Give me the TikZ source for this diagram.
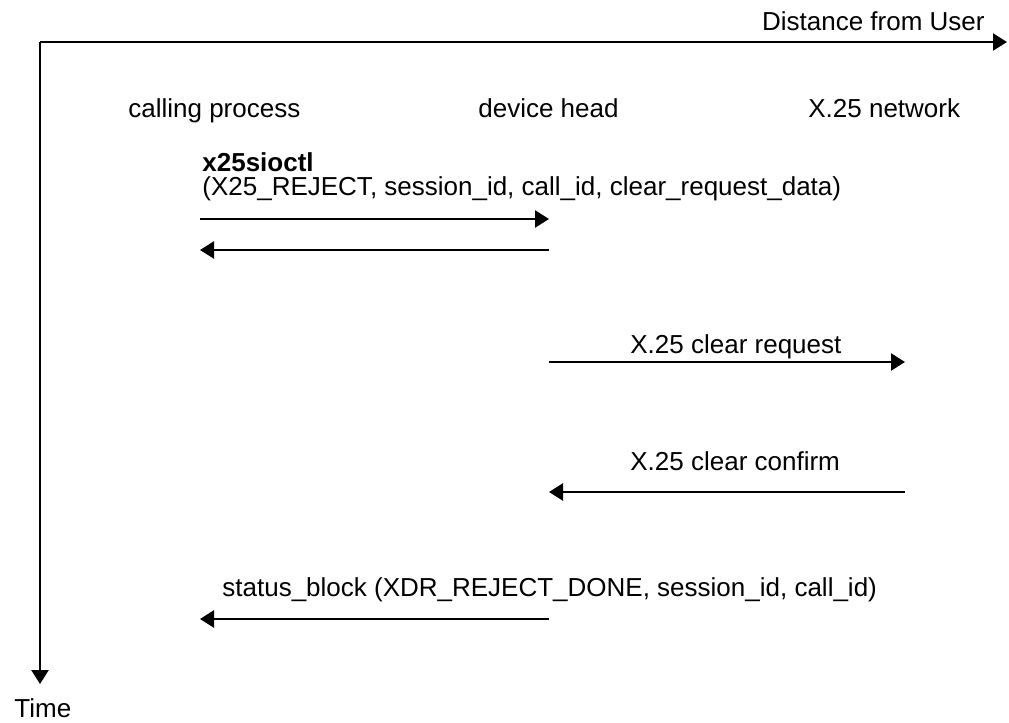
\documentclass[tikz,border=0pt]{standalone}
\usepackage{fontspec}
\setmainfont{Liberation Sans}
\usetikzlibrary{arrows.meta}
\begin{document}
\begin{tikzpicture}[x=0.5pt,y=-0.5pt,
  tip/.style={-{Triangle[length=7pt,width=8.5pt]}},
  axisline/.style={line width=1.2pt,tip},
  msg/.style={line width=1.2pt,tip},
  lbl/.style={inner sep=0pt,font=\fontsize{13}{15}\selectfont}]
\useasboundingbox (0,0) rectangle (1009,723);

% axes
\coordinate (origin) at (40,42);
\coordinate (distend) at (1007,42);
\coordinate (timeend) at (40,684);
\draw[axisline] (origin) -- (distend);
\draw[axisline] (origin) -- (timeend);
\node[lbl,anchor=base east] (dist) at (985,30) {Distance from User};
\node[lbl,anchor=base west] (time) at (14,717) {Time};

% participants
\node[lbl,anchor=base west] (cp) at (128,117) {calling process};
\node[lbl,anchor=base west] (dh) at (478,117) {device head};
\node[lbl,anchor=base west] (xn) at (808,117) {X.25 network};

% message end points
\coordinate (cp1) at (200,219);  \coordinate (dh1) at (549,219);
\coordinate (cp2) at (200,250);  \coordinate (dh2) at (549,250);
\coordinate (dh3) at (549,362);  \coordinate (xn3) at (905,362);
\coordinate (dh4) at (549,492);  \coordinate (xn4) at (905,492);
\coordinate (cp5) at (200,619);  \coordinate (dh5) at (549,619);

% ioctl call and its return
\node[lbl,anchor=base west] (ioctl) at (202,171) {\bfseries x25sioctl};
\node[lbl,anchor=base west] (ioctlargs) at (202,195) {(X25\_REJECT, session\_id, call\_id, clear\_request\_data)};
\draw[msg] (cp1) -- (dh1);
\draw[msg] (dh2) -- (cp2);

% clear request / confirm
\node[lbl,anchor=base west] (clrreq) at (630,353) {X.25 clear request};
\draw[msg] (dh3) -- (xn3);
\node[lbl,anchor=base west] (clrcnf) at (630,470) {X.25 clear confirm};
\draw[msg] (xn4) -- (dh4);

% status block
\node[lbl,anchor=base west] (status) at (222,596) {status\_block (XDR\_REJECT\_DONE, session\_id, call\_id)};
\draw[msg] (dh5) -- (cp5);
\end{tikzpicture}
\end{document}
